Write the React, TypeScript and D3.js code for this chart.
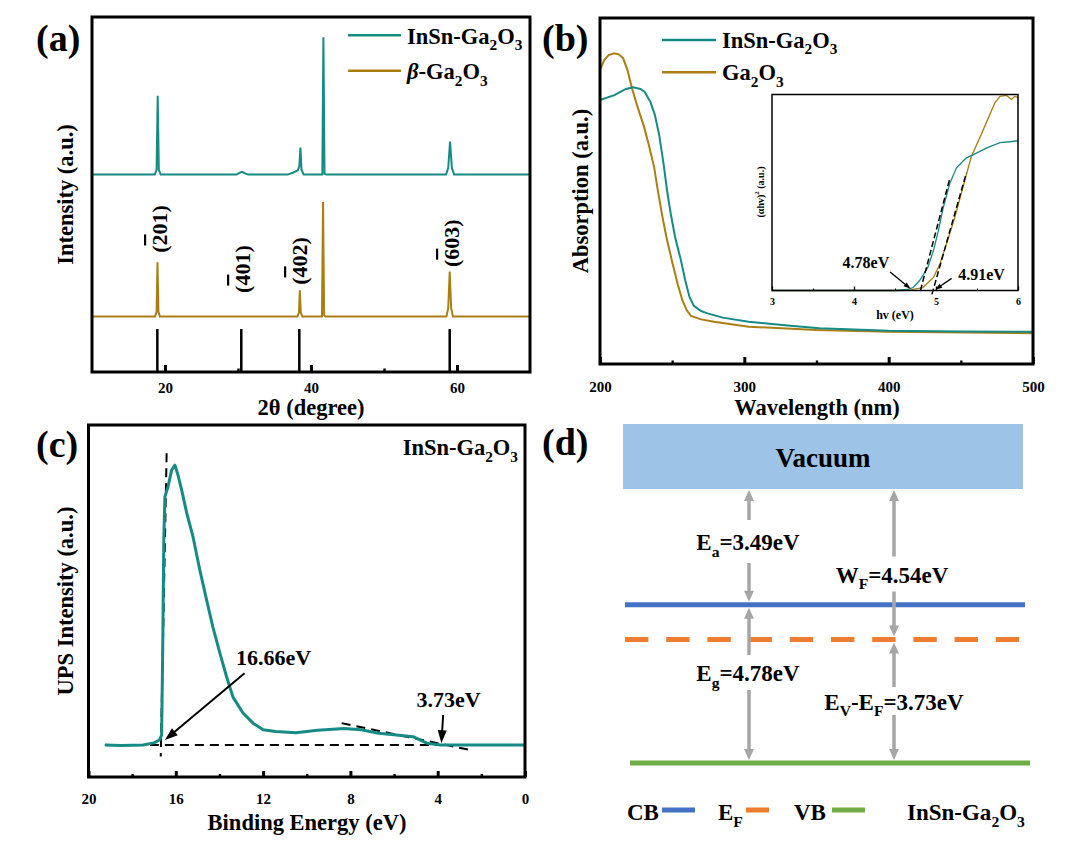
import React, { useEffect, useRef } from "react";
import * as d3 from "d3";

type Pt = [number, number];
type Part = { t: string; sub?: boolean; sup?: boolean; bar?: boolean; it?: boolean };
type G = d3.Selection<SVGGElement, unknown, null, undefined>;

const TEAL = "#168a84";
const GOLD = "#ab7e14";
const FONT = "'Liberation Serif', 'Times New Roman', serif";

// ---------- (a) XRD: [2θ (deg), intensity (a.u.)]
const xrdInSn: Pt[] = [
  [10, 55.6], [18.6, 55.6], [18.85, 57], [19.0, 77.8], [19.15, 57], [19.4, 55.6],
  [29.8, 55.6], [30.3, 56.2], [30.55, 56.4], [30.9, 56.0], [31.4, 55.6],
  [36.8, 55.6], [37.6, 56.2], [38.2, 56.8], [38.4, 58], [38.55, 63.2], [38.7, 57], [39.0, 55.6],
  [41.55, 55.6], [41.7, 94.3], [41.85, 55.8], [42.1, 55.6],
  [58.5, 55.6], [58.8, 57.5], [59.05, 64.9], [59.3, 57.5], [59.6, 55.6], [70, 55.6],
];
const xrdGa2O3: Pt[] = [
  [10, 15.6], [18.65, 15.6], [18.85, 17], [18.97, 30.9], [19.1, 17], [19.3, 15.6],
  [38.15, 15.6], [38.35, 16.8], [38.47, 23.0], [38.6, 16.8], [38.8, 15.6],
  [41.5, 15.6], [41.65, 47.9], [41.8, 16], [42.0, 15.6],
  [58.55, 15.6], [58.8, 18], [59.0, 28.3], [59.2, 18], [59.45, 15.6], [70, 15.6],
];
const pdfSticks = [18.95, 30.45, 38.4, 59.0];
const pdfStickHeight = 12.1;
const hklBar = ["2", "4", "4", "6"];
const hklRest = ["01)", "01)", "02)", "03)"];
const hklTheta = [19.18, 30.55, 38.36, 59.18];
const hklLevel = [40.3, 29.0, 31.3, 36.3];
const xrdMajor = [20, 40, 60];
const xrdMinor = [30, 50];

// ---------- (b) absorption: [wavelength (nm), absorption]
const absInSn: Pt[] = [
  [200, 0.763], [210, 0.777], [218, 0.795], [223, 0.8], [228, 0.795], [231, 0.786],
  [235, 0.757], [238, 0.72], [241, 0.662], [244, 0.58], [246.5, 0.5], [249, 0.435],
  [252, 0.367], [256, 0.301], [259, 0.243], [262, 0.194], [265, 0.168], [270, 0.153],
  [274, 0.147], [285, 0.134], [303, 0.122], [330, 0.111], [352, 0.103], [400, 0.096],
  [450, 0.094], [500, 0.093],
];
const absGa2O3: Pt[] = [
  [200, 0.85], [203, 0.879], [206, 0.893], [210, 0.898], [213, 0.895], [216, 0.884],
  [219, 0.85], [222, 0.8], [226, 0.743], [230.5, 0.686], [234, 0.63], [237.5, 0.569],
  [240, 0.503], [243, 0.431], [246, 0.367], [250, 0.295], [254, 0.228], [257, 0.185],
  [260, 0.156], [263, 0.139], [270, 0.129], [279, 0.122], [303, 0.108], [350, 0.098],
  [400, 0.093], [500, 0.089],
];
const wlMajor = [200, 300, 400, 500];
const wlMinor = [250, 350, 450];

// inset: Tauc plot [hv (eV), (αhv)^2]
const taucInSn: Pt[] = [
  [3, 0], [4.5, 0], [4.65, 0.005], [4.72, 0.015], [4.8, 0.051], [4.9, 0.118], [4.97, 0.205],
  [5.03, 0.308], [5.09, 0.426], [5.17, 0.549], [5.25, 0.626], [5.37, 0.677], [5.45, 0.692],
  [5.62, 0.728], [5.78, 0.754], [5.9, 0.759], [6, 0.764],
];
const taucGa2O3: Pt[] = [
  [3, 0], [4.6, 0], [4.7, 0.004], [4.84, 0.015], [4.97, 0.067], [5.05, 0.138], [5.13, 0.241],
  [5.23, 0.374], [5.33, 0.528], [5.43, 0.682], [5.54, 0.785], [5.64, 0.882], [5.72, 0.959],
  [5.78, 0.99], [5.86, 0.995], [5.92, 0.975], [5.96, 0.99], [6, 0.985],
];
const taucFitLines: Pt[][] = [
  [[4.81, 0], [5.17, 0.574]],
  [[4.95, -0.02], [5.37, 0.6]],
];
const taucGapLabels = ["4.78eV", "4.91eV"];
const taucArrows: Pt[][] = [
  [[4.44, 0.094], [4.69, 0.009]],
  [[5.19, 0.062], [4.99, 0.004]],
];
const taucMajor = [3, 4, 5, 6];
const taucMinor = [3.5, 4.5, 5.5];

// ---------- (c) UPS: [binding energy (eV), intensity]
const ups: Pt[] = [
  [19.25, 9.1], [18.5, 8.95], [17.5, 9.1], [17.0, 9.7], [16.75, 10.5], [16.65, 11.9],
  [16.6, 36.1], [16.55, 67.3], [16.5, 79.6], [16.36, 82.4], [16.19, 87.2], [16.04, 88.6],
  [15.9, 85.8], [15.73, 81.5], [15.5, 75.0], [15.21, 68.2], [14.9, 58.8], [14.59, 50.3],
  [14.3, 42.6], [13.98, 35.2], [13.67, 28.4], [13.38, 22.7], [12.92, 18.2], [12.46, 15.3],
  [12.0, 13.4], [11.43, 12.9], [10.5, 12.6], [9.5, 13.3], [8.3, 13.8], [7.5, 13.4],
  [6.7, 12.4], [6.0, 12.0], [5.13, 11.45], [4.5, 9.6], [3.86, 9.1], [0, 9.1],
];
const upsBaseline: Pt[] = [[19.25, 9.09], [0, 9.09]];
const upsCutoffFit: Pt[] = [[16.42, 92.0], [16.69, 5.8]];
const upsVbmFit: Pt[] = [[8.4, 15.3], [2.37, 7.5]];
const upsCutoffArrow: Pt[] = [[12.85, 29.5], [16.5, 10.5]];
const upsVbmArrow: Pt[] = [[3.75, 17.6], [3.83, 9.6]];
const beMajor = [20, 16, 12, 8, 4, 0];
const beMinor = [18, 14, 10, 6, 2];

// ---------- (d) band diagram (eV below vacuum)
const bandNames = ["CB", "EF", "VB"];
const bandEnergies = [-3.49, -4.54, -8.27];
const gapNames = ["Ea", "Eg", "WF", "EVEF"];
const gapFrom = [0, -3.49, 0, -4.54];
const gapTo = [-3.49, -8.27, -4.54, -8.27];

function addText(
  g: G, x: number, y: number, parts: Part[] | string, size: number,
  opts: { anchor?: string; rotate?: boolean; central?: boolean } = {}
) {
  const t = g.append("text")
    .attr("x", x).attr("y", y)
    .attr("font-family", FONT).attr("font-weight", "bold")
    .attr("font-size", size).attr("fill", "#000")
    .attr("text-anchor", opts.anchor ?? "start");
  if (opts.central) t.attr("dominant-baseline", "central");
  if (opts.rotate) t.attr("transform", `rotate(-90,${x},${y})`);
  const list: Part[] = typeof parts === "string" ? [{ t: parts }] : parts;
  let shift = 0;
  list.forEach((p) => {
    const s = t.append("tspan").text(p.t);
    const target = p.sub ? size * 0.3 : p.sup ? -size * 0.4 : 0;
    if (target !== shift) s.attr("dy", target - shift);
    shift = target;
    if (p.sub || p.sup) s.attr("font-size", size * 0.68);
    if (p.bar) s.style("text-decoration", "overline");
    if (p.it) s.attr("font-style", "italic");
  });
  return t;
}

const ga2o3 = (pre: string): Part[] => [
  { t: pre + "Ga" }, { t: "2", sub: true }, { t: "O" }, { t: "3", sub: true },
];

function frame(g: G, x: d3.ScaleLinear<number, number>, y: d3.ScaleLinear<number, number>, sw: number) {
  const [x0, x1] = d3.extent(x.range()) as [number, number];
  const [y0, y1] = d3.extent(y.range()) as [number, number];
  g.append("rect").attr("x", x0).attr("y", y0).attr("width", x1 - x0).attr("height", y1 - y0)
    .attr("fill", "none").attr("stroke", "#000").attr("stroke-width", sw);
}

function bottomAxis(
  g: G, x: d3.ScaleLinear<number, number>, yPos: number, major: number[], minor: number[],
  size: number, len: number, sw: number, pad: number
) {
  const a = g.append("g").attr("transform", `translate(0,${yPos})`)
    .call(d3.axisBottom(x).tickValues(major).tickSize(-len).tickPadding(pad).tickFormat(d3.format("d")) as any);
  a.select(".domain").remove();
  a.selectAll("line").attr("stroke", "#000").attr("stroke-width", sw);
  a.selectAll("text").attr("font-family", FONT).attr("font-weight", "bold")
    .attr("font-size", size).attr("fill", "#000");
  const m = g.append("g").attr("transform", `translate(0,${yPos})`)
    .call(d3.axisBottom(x).tickValues(minor).tickSize(-len / 2).tickFormat(() => "") as any);
  m.select(".domain").remove();
  m.selectAll("line").attr("stroke", "#000").attr("stroke-width", sw * 0.8);
}

function arrow(g: G, x1: number, y1: number, x2: number, y2: number, color: string, sw: number, hl: number, hw: number) {
  const len = Math.hypot(x2 - x1, y2 - y1);
  const ux = (x2 - x1) / len, uy = (y2 - y1) / len;
  const bx = x2 - ux * hl, by = y2 - uy * hl;
  g.append("line").attr("x1", x1).attr("y1", y1).attr("x2", bx + ux).attr("y2", by + uy)
    .attr("stroke", color).attr("stroke-width", sw);
  g.append("path")
    .attr("d", `M${x2},${y2}L${bx - (uy * hw) / 2},${by + (ux * hw) / 2}L${bx + (uy * hw) / 2},${by - (ux * hw) / 2}Z`)
    .attr("fill", color);
}

function drawXrd(g: G) {
  const x = d3.scaleLinear().domain([10, 70]).range([92, 530]);
  const y = d3.scaleLinear().domain([0, 100]).range([372, 17]);
  const line = d3.line<Pt>().x((d) => x(d[0])).y((d) => y(d[1]));

  g.append("path").attr("d", line(xrdGa2O3)).attr("fill", "none").attr("stroke", GOLD).attr("stroke-width", 2);
  g.append("path").attr("d", line(xrdInSn)).attr("fill", "none").attr("stroke", TEAL).attr("stroke-width", 2);

  g.selectAll(".stick").data(pdfSticks).enter().append("line")
    .attr("x1", (d) => x(d)).attr("x2", (d) => x(d))
    .attr("y1", y(0)).attr("y2", y(pdfStickHeight))
    .attr("stroke", "#000").attr("stroke-width", 2.5);

  hklBar.forEach((b, i) => {
    addText(g, x(hklTheta[i]), y(hklLevel[i]), [{ t: "(" }, { t: b, bar: true }, { t: hklRest[i] }], 22,
      { anchor: "middle", rotate: true, central: true });
  });

  bottomAxis(g, x, y(0), xrdMajor, xrdMinor, 15, 7, 3, 10.7);
  frame(g, x, y, 3);

  addText(g, 311, 414.5, [{ t: "2θ (degree)" }], 22.5, { anchor: "middle" });
  addText(g, 65, 194.5, "Intensity (a.u.)", 22.5, { anchor: "middle", rotate: true, central: true });
  addText(g, 36, 51, "(a)", 38);

  g.append("line").attr("x1", 348).attr("x2", 401).attr("y1", 35.3).attr("y2", 35.3)
    .attr("stroke", TEAL).attr("stroke-width", 2.5);
  g.append("line").attr("x1", 348).attr("x2", 401).attr("y1", 70.7).attr("y2", 70.7)
    .attr("stroke", GOLD).attr("stroke-width", 2.5);
  addText(g, 407, 43.5, ga2o3("InSn-"), 22.5);
  addText(g, 407, 79, [{ t: "β", it: true }, ...ga2o3("-")], 22.5);
}

function drawAbs(g: G) {
  const x = d3.scaleLinear().domain([200, 500]).range([600, 1033]);
  const y = d3.scaleLinear().domain([0, 1]).range([364, 18]);
  const line = d3.line<Pt>().x((d) => x(d[0])).y((d) => y(d[1]));

  g.append("path").attr("d", line(absGa2O3)).attr("fill", "none").attr("stroke", GOLD).attr("stroke-width", 2);
  g.append("path").attr("d", line(absInSn)).attr("fill", "none").attr("stroke", TEAL).attr("stroke-width", 2);

  bottomAxis(g, x, y(0), wlMajor, wlMinor, 15, 7, 3, 17);
  frame(g, x, y, 3);

  addText(g, 817, 415, "Wavelength (nm)", 22.5, { anchor: "middle" });
  addText(g, 580, 191, "Absorption (a.u.)", 22.5, { anchor: "middle", rotate: true, central: true });
  addText(g, 542, 51, "(b)", 38);

  g.append("line").attr("x1", 662).attr("x2", 716).attr("y1", 40).attr("y2", 40)
    .attr("stroke", TEAL).attr("stroke-width", 2.5);
  g.append("line").attr("x1", 662).attr("x2", 716).attr("y1", 72.3).attr("y2", 72.3)
    .attr("stroke", GOLD).attr("stroke-width", 2.5);
  addText(g, 722, 47.5, ga2o3("InSn-"), 22.5);
  addText(g, 722, 80, ga2o3(""), 22.5);

  // inset Tauc plot
  const xi = d3.scaleLinear().domain([3, 6]).range([772, 1018]);
  const yi = d3.scaleLinear().domain([0, 1]).range([290.5, 94.5]);
  const li = d3.line<Pt>().x((d) => xi(d[0])).y((d) => yi(d[1]));
  g.append("path").attr("d", li(taucGa2O3)).attr("fill", "none").attr("stroke", GOLD).attr("stroke-width", 1.3);
  g.append("path").attr("d", li(taucInSn)).attr("fill", "none").attr("stroke", TEAL).attr("stroke-width", 1.3);
  taucFitLines.forEach((seg) => {
    g.append("path").attr("d", li(seg)).attr("fill", "none").attr("stroke", "#000")
      .attr("stroke-width", 1.5).attr("stroke-dasharray", "6,3");
  });
  taucArrows.forEach((a) => {
    arrow(g, xi(a[0][0]), yi(a[0][1]), xi(a[1][0]), yi(a[1][1]), "#000", 1.3, 7, 5);
  });
  addText(g, xi(4.43), yi(0.113), taucGapLabels[0], 16, { anchor: "end" });
  addText(g, xi(5.27), yi(0.054), taucGapLabels[1], 16);

  bottomAxis(g, xi, yi(0), taucMajor, taucMinor, 10, 4, 1.3, 7.4);
  frame(g, xi, yi, 1.5);
  addText(g, 895, 319, "hv (eV)", 12, { anchor: "middle" });
  addText(g, 760, 192, [{ t: "(αhv)" }, { t: "2", sup: true }, { t: " (a.u.)" }], 10,
    { anchor: "middle", rotate: true, central: true });
}

function drawUps(g: G) {
  const x = d3.scaleLinear().domain([20, 0]).range([88.5, 525]);
  const y = d3.scaleLinear().domain([0, 100]).range([777, 425]);
  const line = d3.line<Pt>().x((d) => x(d[0])).y((d) => y(d[1]));

  [upsBaseline, upsCutoffFit, upsVbmFit].forEach((seg) => {
    g.append("path").attr("d", line(seg)).attr("fill", "none").attr("stroke", "#000")
      .attr("stroke-width", 2).attr("stroke-dasharray", "9,6");
  });
  g.append("path").attr("d", line(ups)).attr("fill", "none").attr("stroke", TEAL)
    .attr("stroke-width", 3).attr("stroke-linejoin", "round");

  [upsCutoffArrow, upsVbmArrow].forEach((a) => {
    arrow(g, x(a[0][0]), y(a[0][1]), x(a[1][0]), y(a[1][1]), "#000", 2, 13, 9);
  });
  addText(g, x(13.24), y(31.8), "16.66eV", 22);
  addText(g, x(3.5), y(20.0), "3.73eV", 22, { anchor: "middle" });

  bottomAxis(g, x, y(0), beMajor, beMinor, 15, 6, 3, 16);
  frame(g, x, y, 3);

  addText(g, 307, 829.5, "Binding Energy (eV)", 22.5, { anchor: "middle" });
  addText(g, 65, 601, "UPS Intensity (a.u.)", 22.5, { anchor: "middle", rotate: true, central: true });
  addText(g, 36, 457, "(c)", 38);
  addText(g, 518, 455, ga2o3("InSn-"), 22.5, { anchor: "end" });
}

function drawBands(g: G) {
  const y = d3.scaleLinear().domain([0, -8.27]).range([489, 763]);
  const colors: Record<string, string> = { CB: "#4472c4", EF: "#ed7d31", VB: "#70ad47" };
  const spans: Record<string, [number, number]> = { CB: [625, 1025], EF: [625, 1020], VB: [630, 1030] };

  g.append("rect").attr("x", 623).attr("y", 424).attr("width", 400).attr("height", y(0) - 424)
    .attr("fill", "#9dc3e6");
  addText(g, 823, 466.7, "Vacuum", 27, { anchor: "middle" });

  bandNames.forEach((n, i) => {
    const l = g.append("line").attr("x1", spans[n][0]).attr("x2", spans[n][1])
      .attr("y1", y(bandEnergies[i])).attr("y2", y(bandEnergies[i]))
      .attr("stroke", colors[n]).attr("stroke-width", 5);
    if (n === "EF") l.attr("stroke-dasharray", "23.4,17.8");
  });

  const GRAY = "#a6a6a6";
  const arrowX: Record<string, number> = { Ea: 749, Eg: 749, WF: 894, EVEF: 894 };
  const labelMid: Record<string, number> = { Ea: 541.5, Eg: 672.5, WF: 574, EVEF: 701 };
  const halfGap: Record<string, number> = { Ea: 21.5, Eg: 17.5, WF: 17.5, EVEF: 14 };
  const labels: Record<string, Part[]> = {
    Ea: [{ t: "E" }, { t: "a", sub: true }, { t: "=3.49eV" }],
    Eg: [{ t: "E" }, { t: "g", sub: true }, { t: "=4.78eV" }],
    WF: [{ t: "W" }, { t: "F", sub: true }, { t: "=4.54eV" }],
    EVEF: [{ t: "E" }, { t: "V", sub: true }, { t: "-E" }, { t: "F", sub: true }, { t: "=3.73eV" }],
  };
  const labelX: Record<string, number> = { Ea: 748, Eg: 748, WF: 892, EVEF: 894 };
  gapNames.forEach((n, i) => {
    const ax = arrowX[n];
    const top = y(gapFrom[i]) + (gapFrom[i] === 0 ? 1 : 3);
    const bot = y(gapTo[i]) - 3;
    arrow(g, ax, labelMid[n] - halfGap[n], ax, top, GRAY, 3.5, 11, 10);
    arrow(g, ax, labelMid[n] + halfGap[n], ax, bot, GRAY, 3.5, 11, 10);
    addText(g, labelX[n], labelMid[n] + 8.5, labels[n], 23, { anchor: "middle" });
  });

  // legend
  const lx: Record<string, [number, number, number]> = {
    CB: [627, 662, 695], EF: [718, 746, 769], VB: [794, 832, 865],
  };
  bandNames.forEach((n) => {
    const [tx, l0, l1] = lx[n];
    const parts: Part[] = n === "EF" ? [{ t: "E" }, { t: "F", sub: true }] : [{ t: n }];
    addText(g, tx, 820, parts, 23);
    g.append("line").attr("x1", l0).attr("x2", l1).attr("y1", 810).attr("y2", 810)
      .attr("stroke", colors[n]).attr("stroke-width", 5);
  });
  addText(g, 907, 820, ga2o3("InSn-"), 23);
  addText(g, 542, 455, "(d)", 38);
}

export default function App() {
  const svgRef = useRef<SVGSVGElement | null>(null);

  useEffect(() => {
    document.body.style.margin = "0";
    if (!svgRef.current) return;
    const svg = d3.select(svgRef.current);
    svg.selectAll("*").remove();
    svg.append("rect").attr("width", 1088).attr("height", 858).attr("fill", "#fff");
    drawXrd(svg.append("g"));
    drawAbs(svg.append("g"));
    drawUps(svg.append("g"));
    drawBands(svg.append("g"));
  }, []);

  return <svg ref={svgRef} width={1088} height={858} style={{ display: "block" }} />;
}
